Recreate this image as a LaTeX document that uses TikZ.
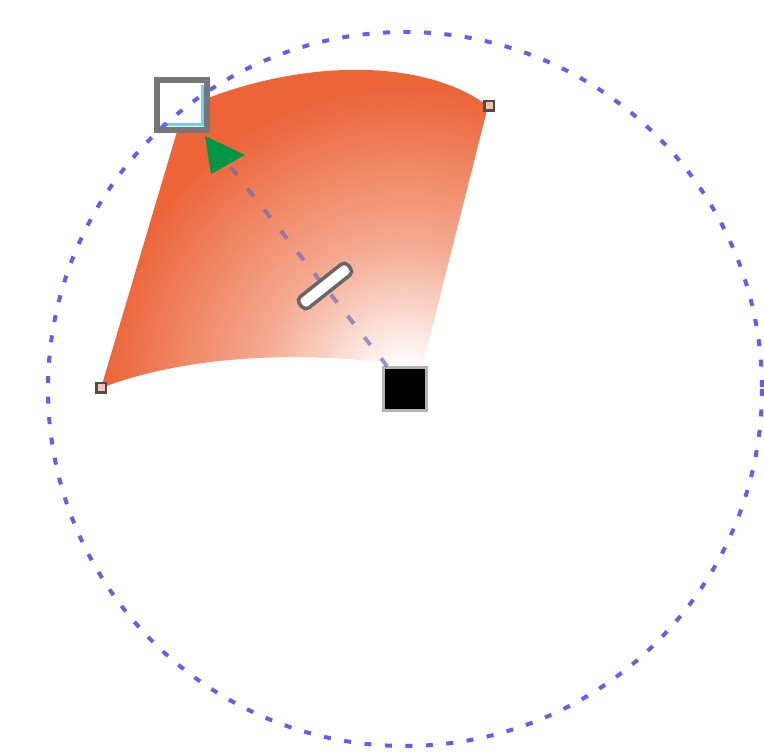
\documentclass[tikz,border=0pt]{standalone}
\usetikzlibrary{calc}
\definecolor{fanorange}{RGB}{236,100,56}
\definecolor{ringblue}{RGB}{96,96,238}
\definecolor{tipgreen}{RGB}{0,150,72}
\definecolor{handlegray}{RGB}{118,118,118}
\definecolor{handlecyan}{RGB}{110,210,235}
\pgfdeclareradialshading{fanshade}{\pgfpoint{0bp}{0bp}}{color(0bp)=(white); color(1.5bp)=(white); color(10bp)=(fanorange!55!white); color(21bp)=(fanorange); color(50bp)=(fanorange)}

\begin{document}
\begin{tikzpicture}[
  x=0.2mm,y=-0.2mm,
  ring/.style={draw=ringblue,line width=0.8mm,dash pattern=on 1.4mm off 2.7mm},
  radline/.style={draw={rgb,255:red,105;green,110;blue,190},draw opacity=0.7,line width=0.8mm,dash pattern=on 2mm off 3.4mm},
  centre/.style={fill=black,draw=black!30,line width=0.5mm,minimum size=8.6mm,inner sep=0pt},
  rhandle/.style={draw=handlegray,line width=1.2mm,fill=white,minimum size=10mm,inner sep=0pt},
  knot/.style={draw=black!70,line width=0.5mm,fill=fanorange!40,minimum size=1.9mm,inner sep=0pt},
  slider/.style={draw=black!60,line width=0.7mm,fill=white,rounded corners=1mm,
              minimum width=12.4mm,minimum height=2.8mm,inner sep=0pt,rotate=38.4}]
\useasboundingbox (0,0) rectangle (764,755);
\fill[white] (0,0) rectangle (764,755);
\begin{scope}
  \clip (184,108) .. controls (290,60) and (420,55) .. (488,106) -- (422,368)
        .. controls (330,352) and (200,350) .. (101,388) -- cycle;
  \shade[shading=fanshade] (405,389) circle (361);
\end{scope}
\node[centre] (centre) at (405,389) {};
\node[rhandle] (rh) at (182,105) {};
\draw[handlecyan,line width=0.6mm] ($(rh.north east)+(-8,8)$) -- ($(rh.south east)+(-8,-8)$) -- ($(rh.south west)+(8,-8)$);
\draw[ring] (centre) circle (357);
\draw[radline] (centre) -- (rh);
\fill[tipgreen] (205,136) -- (245,155) -- (211,174) -- cycle;
\node[slider] (slider) at (325,286) {};
\node[knot] (tr) at (489,106) {};
\node[knot] (bl) at (101,388) {};
\end{tikzpicture}
\end{document}
